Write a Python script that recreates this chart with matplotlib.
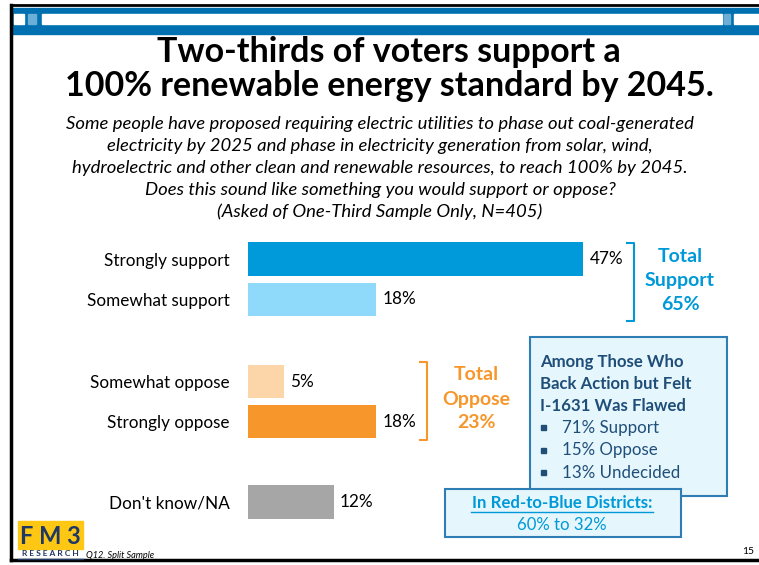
import matplotlib.pyplot as plt
from matplotlib.patches import Rectangle

plt.rcParams['font.family'] = ['Lato', 'DejaVu Sans']

# data
categories = ['Strongly support', 'Somewhat support', 'Somewhat oppose',
              'Strongly oppose', "Don't know/NA"]
values = [47, 18, 5, 18, 12]
bar_colors = ['#009ADB', '#8FDAFB', '#FCD6A9', '#F7962A', '#A6A6A6']
positions = [0, 1, 3.05, 4.05, 6.05]
total_support = 65
total_oppose = 23
flawed_lines = ['71% Support', '15% Oppose', '13% Undecided']

W, H = 759, 565
fig = plt.figure(figsize=(W / 100, H / 100), dpi=100)

# overlay axes in pixel coordinates
ov = fig.add_axes([0, 0, 1, 1])
ov.set_xlim(0, W)
ov.set_ylim(H, 0)
ov.axis('off')

# slide frame
ov.plot([11, 11], [5, 560], color='black', lw=2.5)
ov.plot([11, W], [5, 5], color='black', lw=2)
ov.plot([11, W], [560, 560], color='black', lw=2.5)

# header bar
ov.add_patch(Rectangle((12, 8), W - 12, 26, color='#0070B0'))
ov.add_patch(Rectangle((14, 14), 10, 10, color='white'))
ov.add_patch(Rectangle((28, 14), 8, 10, color='#6BAED6'))
ov.add_patch(Rectangle((42, 14), 680, 10, color='white'))
ov.add_patch(Rectangle((724, 14), 6, 10, color='#6BAED6'))
ov.add_patch(Rectangle((734, 14), 25, 10, color='white'))

# title
ov.text(389, 52, 'Two-thirds of voters support a', ha='center', va='center',
        fontsize=24.5, fontweight='bold')
ov.text(389, 86, '100% renewable energy standard by 2045.', ha='center',
        va='center', fontsize=24.5, fontweight='bold')

sub = ['Some people have proposed requiring electric utilities to phase out coal-generated',
       'electricity by 2025 and phase in electricity generation from solar, wind,',
       'hydroelectric and other clean and renewable resources, to reach 100% by 2045.',
       'Does this sound like something you would support or oppose?',
       '(Asked of One-Third Sample Only, N=405)']
for i, s in enumerate(sub):
    ov.text(380, 124 + 22 * i, s, ha='center', va='center', fontsize=13.3,
            style='italic')

# bar axes
px = 335 / 47.0
left, right = 248, 248 + 60 * px
top, bottom = 239, 522
ax = fig.add_axes([left / W, 1 - bottom / H, (right - left) / W, (bottom - top) / H])
ax.barh(positions, values, height=0.83, color=bar_colors)
ax.set_xlim(0, 60)
ax.set_ylim(6.55, -0.5)
ax.set_yticks(positions)
ax.set_yticklabels(categories, fontsize=12.3)
ax.tick_params(axis='y', length=0, pad=13)
ax.set_xticks([])
for s in ax.spines.values():
    s.set_visible(False)
ax.patch.set_alpha(0)
for p, v in zip(positions, values):
    ax.text(v + 0.9, p, '%d%%' % v, va='center', ha='left', fontsize=12.3)

# brackets
blue = '#0099D8'
orange = '#F7962A'
ov.plot([627, 634, 634, 627], [243, 243, 321, 321], color=blue, lw=1.5)
for i, s in enumerate(['Total', 'Support', '%d%%' % total_support]):
    ov.text(680, 256 + 24.5 * i, s, ha='center', va='center', fontsize=14,
            fontweight='bold', color=blue)
ov.plot([420, 427, 427, 420], [362, 362, 440, 440], color=orange, lw=1.5)
for i, s in enumerate(['Total', 'Oppose', '%d%%' % total_oppose]):
    ov.text(476, 375 + 24 * i, s, ha='center', va='center', fontsize=14,
            fontweight='bold', color=orange)

# info box
ov.add_patch(Rectangle((530, 337), 197, 159, facecolor='#E5F6FD',
                       edgecolor='#2E7DB5', lw=1.5))
navy = '#1F4E79'
for i, s in enumerate(['Among Those Who', 'Back Action but Felt', 'I-1631 Was Flawed']):
    ov.text(540, 362 + 22 * i, s, ha='left', va='center', fontsize=12.1,
            fontweight='bold', color=navy)
for i, s in enumerate(flawed_lines):
    y = 428 + 22.5 * i
    ov.add_patch(Rectangle((541, y - 3), 5, 5, color=navy))
    ov.text(562, y, s, ha='left', va='center', fontsize=12.2, color=navy)

# districts box
ov.add_patch(Rectangle((445, 489), 236, 48, facecolor='#E5F6FD',
                       edgecolor='#2E7DB5', lw=1.5))
ov.text(562, 503, 'In Red-to-Blue Districts:', ha='center', va='center',
        fontsize=12.1, fontweight='bold', color=blue)
ov.plot([471, 653], [512, 512], color=blue, lw=1)
ov.text(562, 525, '60% to 32%', ha='center', va='center', fontsize=12.1,
        color=blue)

# logo and footer
ov.add_patch(Rectangle((18, 521), 65, 28, color='#FDC713'))
ov.text(50, 536, 'F M 3', ha='center', va='center', fontsize=17,
        fontweight='bold', color='#1F3864')
ov.text(50, 554, 'R E S E A R C H', ha='center', va='center', fontsize=6,
        fontweight='bold', color='#1F3864')
ov.plot([18, 83], [559, 559], color='#1F3864', lw=1)
ov.text(86, 555, 'Q12. Split Sample', ha='left', va='center', fontsize=6.6,
        style='italic')
ov.text(748, 552, '15', ha='center', va='center', fontsize=7.5)

fig.savefig('out.png', dpi=100)
